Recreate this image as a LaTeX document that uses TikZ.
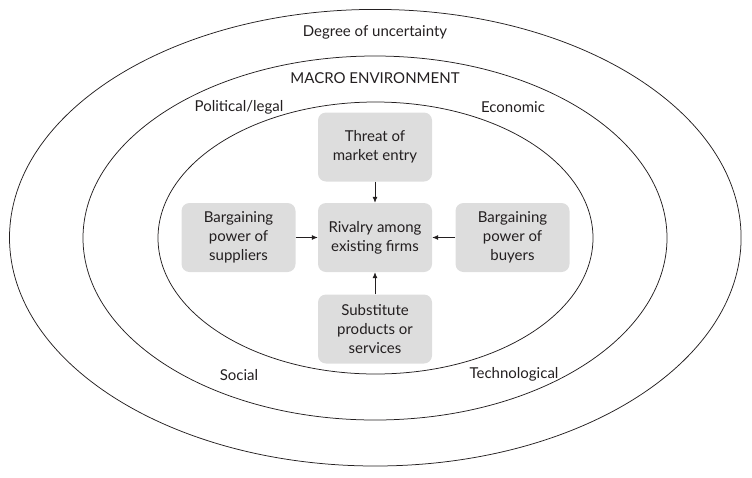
\documentclass[tikz,border=0pt]{standalone}
\usepackage{fontspec}
\setmainfont{Lato}
\usetikzlibrary{arrows.meta}
\definecolor{boxgray}{RGB}{221,221,221}
\definecolor{ink}{RGB}{35,31,32}
\tikzset{
  ring/.style={draw=ink, line width=0.75pt},
  forcebox/.style={fill=boxgray, rounded corners=8pt, minimum width=114pt, minimum height=69pt,
    align=center, inner sep=0pt, text=ink, font=\fontsize{15pt}{18.8pt}\selectfont},
  lbl/.style={text=ink, font=\fontsize{15pt}{17pt}\selectfont, inner sep=0pt},
  push/.style={draw=ink, line width=0.8pt, -{Latex[length=6pt,width=5pt]}}
}
\begin{document}
\begin{tikzpicture}[x=1pt,y=-1pt]
\useasboundingbox (0,0) rectangle (752,477);
\draw[ring] (375.3,237.7) ellipse [x radius=365.8pt, y radius=228.3pt];
\draw[ring] (375,238) ellipse [x radius=292pt, y radius=182pt];
\draw[ring] (375.5,238) ellipse [x radius=217.5pt, y radius=136pt];
\node[lbl] (unc) at (375,32) {Degree of uncertainty};
\node[lbl] (macro) at (375,78) {MACRO ENVIRONMENT};
\node[lbl] (pol) at (239,107) {Political/legal};
\node[lbl] (eco) at (513,107) {Economic};
\node[lbl] (soc) at (239,375) {Social};
\node[lbl] (tec) at (514,374) {Technological};
\node[forcebox] (entry) at (375,147) {Threat of\\market entry};
\node[forcebox] (rival) at (375,237.5) {Rivalry among\\existing firms};
\node[forcebox] (supp) at (238.5,237.5) {Bargaining\\power of\\suppliers};
\node[forcebox] (buy) at (512.5,237.5) {Bargaining\\power of\\buyers};
\node[forcebox] (subst) at (375,329) {Substitute\\products or\\services};
\draw[push] (entry) -- (rival);
\draw[push] (supp) -- (rival);
\draw[push] (buy) -- (rival);
\draw[push] (subst) -- (rival);
\end{tikzpicture}
\end{document}
